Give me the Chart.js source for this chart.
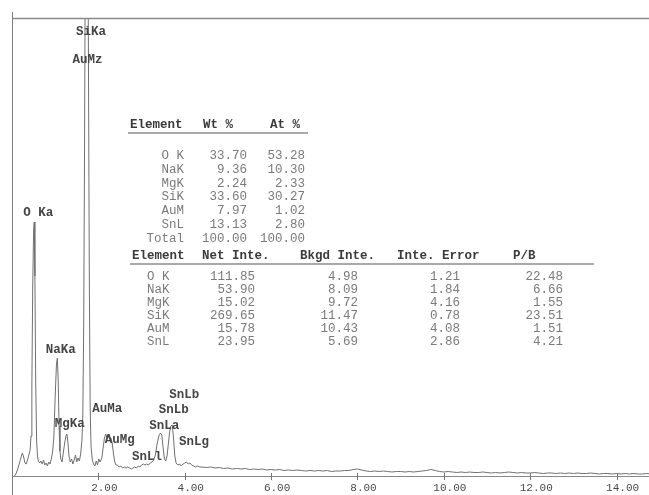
<!DOCTYPE html>
<html>
<head>
<meta charset="utf-8">
<title>EDS spectrum</title>
<script src="https://cdn.jsdelivr.net/npm/chart.js@4.4.1/dist/chart.umd.min.js"></script>
<style>
  html, body { margin: 0; padding: 0; background: #ffffff; }
  #wrap { width: 649px; height: 495px; }
</style>
</head>
<body>
<div id="wrap"><canvas id="spec" width="649" height="495"></canvas></div>
<script>
// ---- spectrum: energy (keV) and counts ----
const energyKeV = [
  0.06, 0.10, 0.14, 0.18, 0.21, 0.24, 0.27, 0.30, 0.33, 0.36, 0.39, 0.42, 0.44, 0.46, 0.48, 0.50, 0.515, 0.53, 0.55, 0.57,
  0.59, 0.61, 0.64, 0.67, 0.70, 0.73, 0.76, 0.79, 0.82, 0.85, 0.88, 0.91, 0.94, 0.97, 1.00, 1.03, 1.05, 1.07, 1.09, 1.11,
  1.13, 1.16, 1.19, 1.22, 1.25, 1.27, 1.29, 1.32, 1.35, 1.38, 1.41, 1.44, 1.47, 1.50, 1.53, 1.56, 1.59, 1.62, 1.64, 1.66,
  1.68, 1.70, 1.72, 1.735, 1.75, 1.77, 1.79, 1.81, 1.83, 1.86, 1.89, 1.92, 1.95, 1.98, 2.01, 2.04, 2.08, 2.11, 2.14, 2.17,
  2.20, 2.23, 2.26, 2.29, 2.32, 2.35, 2.38, 2.41, 2.44, 2.48, 2.52, 2.56, 2.60, 2.64, 2.68, 2.72, 2.76, 2.80, 2.84, 2.88,
  2.92, 2.96, 3.00, 3.04, 3.08, 3.12, 3.16, 3.20, 3.24, 3.28, 3.32, 3.36, 3.40, 3.44, 3.47, 3.50, 3.53, 3.56, 3.59, 3.62,
  3.65, 3.68, 3.71, 3.74, 3.77, 3.80, 3.84, 3.88, 3.92, 3.96, 4.00, 4.04, 4.08, 4.12, 4.16, 4.20, 4.25, 4.30, 4.35,
  4.4, 4.5, 4.6, 4.7, 4.8, 4.9, 5.0, 5.1, 5.2, 5.3, 5.4, 5.5, 5.6, 5.7, 5.8, 5.9, 6.0, 6.1, 6.2, 6.3,
  6.4, 6.5, 6.6, 6.7, 6.8, 6.9, 7.0, 7.1, 7.2, 7.3, 7.4, 7.5, 7.6, 7.7, 7.8, 7.9, 8.0, 8.1, 8.2, 8.3,
  8.4, 8.5, 8.6, 8.7, 8.8, 8.9, 9.0, 9.1, 9.2, 9.3, 9.4, 9.5, 9.6, 9.7, 9.8, 9.9, 10.0, 10.1, 10.2, 10.3,
  10.4, 10.5, 10.6, 10.7, 10.8, 10.9, 11.0, 11.1, 11.2, 11.3, 11.4, 11.5, 11.6, 11.7, 11.8, 11.9, 12.0, 12.1, 12.2, 12.3,
  12.4, 12.5, 12.6, 12.7, 12.8, 12.9, 13.0, 13.1, 13.2, 13.3, 13.4, 13.5, 13.6, 13.7, 13.8, 13.9, 14.0, 14.1, 14.2, 14.3,
  14.4, 14.5, 14.6, 14.7, 14.8
];
const counts = [
  0, 3, 8, 14, 19, 23, 19, 13, 12, 16, 21, 26, 40, 90, 190, 245, 254, 200, 90, 35,
  20, 15, 13, 15, 12, 16, 11, 13, 10, 14, 12, 17, 24, 40, 80, 112, 118, 95, 50, 25,
  17, 14, 24, 33, 40, 42, 36, 20, 14, 17, 12, 16, 21, 14, 18, 15, 22, 36, 60, 150,
  330, 560, 660, 680, 600, 420, 200, 70, 30, 16, 12, 10, 15, 11, 17, 14, 18, 28, 38, 42,
  38, 40, 37, 38, 33, 22, 14, 11, 11, 9, 10, 8, 9, 8, 9, 8, 7, 8, 9, 8,
  10, 9, 11, 12, 11, 12, 11, 13, 14, 16, 21, 32, 40, 43, 41, 28, 17, 15, 20, 32,
  44, 50, 51, 38, 20, 13, 11, 12, 10, 12, 13, 14, 12, 13, 11, 10, 9, 10, 9,
  9, 8.5, 9, 8, 8.5, 7.5, 8, 7, 7.5, 7, 7.5, 6.5, 7, 6.5, 7, 6, 6.5, 6, 6.5, 5.5,
  6, 5.5, 6, 5.5, 5, 5.5, 5, 5.5, 5, 5.5, 4.5, 5, 5, 5.5, 5.5, 6.5, 7, 6, 5, 4.5,
  5, 4.5, 5, 4.5, 4, 4.5, 4.5, 4, 4.5, 4, 4.5, 5, 5.5, 6.5, 5.5, 4.5, 4, 4.5, 4, 3.5,
  4, 3.5, 4, 3.5, 3.5, 4, 3.5, 3, 3.5, 3, 3.5, 4, 3.5, 3, 3.5, 3, 3, 3.5, 3, 2.5,
  3, 3, 2.5, 3, 2.5, 3, 2.5, 3, 2.5, 2.5, 3, 2.5, 2, 2.5, 2.5, 2, 2.5, 2, 2.5, 2,
  2.5, 2, 2, 2.5, 2
];

// ---- peak identifications ----
const peakNames    = ['O Ka', 'NaKa', 'MgKa', 'SiKa', 'AuMz', 'AuMa', 'AuMg', 'SnLl', 'SnLa', 'SnLb', 'SnLb', 'SnLg'];
const peakEnergies = [0.52, 1.04, 1.25, 1.74, 1.66, 2.12, 2.41, 3.04, 3.44, 3.66, 3.90, 4.13];

// ---- energy axis ----
const xTickValues = [2, 4, 6, 8, 10, 12, 14];

// ---- quantification (ZAF) ----
const quantElements = ['O K', 'NaK', 'MgK', 'SiK', 'AuM', 'SnL', 'Total'];
const wtPercent     = [33.70, 9.36, 2.24, 33.60, 7.97, 13.13, 100.00];
const atPercent     = [53.28, 10.30, 2.33, 30.27, 1.02, 2.80, 100.00];

// ---- intensities ----
const intElements = ['O K', 'NaK', 'MgK', 'SiK', 'AuM', 'SnL'];
const netInte     = [111.85, 53.90, 15.02, 269.65, 15.78, 23.95];
const bkgdInte    = [4.98, 8.09, 9.72, 11.47, 10.43, 5.69];
const inteError   = [1.21, 1.84, 4.16, 0.78, 4.08, 2.86];
const pbRatio     = [22.48, 6.66, 1.55, 23.51, 1.51, 4.21];

// ---- layout / styling ----
const MONO = '"Liberation Mono", "Courier New", monospace';
// height (in counts) at which each peak name is written
const peakLabelLevels = [263, 126, 52, 444, 416, 67, 36, 19, 50, 66, 81, 34];

const table1 = {
  headers: [['Element', 130], ['Wt %', 203], ['At %', 270]],
  headerY: 125, ruleY: 133, ruleX: [128, 308],
  rowY0: 156, rowStep: 13.7,
  colRight: [184, 247, 305]
};
const table2 = {
  headers: [['Element', 132], ['Net Inte.', 202], ['Bkgd Inte.', 300], ['Inte. Error', 397], ['P/B', 513]],
  headerY: 256, ruleY: 264, ruleX: [130, 594],
  rowY0: 277, rowStep: 13,
  elemLeft: 147,
  colRight: [255, 358, 460, 563]
};

const decorations = {
  id: 'decorations',
  afterDraw(chart) {
    const { ctx, chartArea: a, scales: { x, y } } = chart;
    ctx.save();

    // frame rules
    ctx.strokeStyle = '#7c7c7c';
    ctx.lineWidth = 1;
    ctx.beginPath();
    ctx.moveTo(a.left + 0.5, a.top - 6);
    ctx.lineTo(a.left + 0.5, chart.height);
    ctx.stroke();
    ctx.strokeStyle = '#8a8a8a';
    ctx.lineWidth = 1.5;
    ctx.beginPath();
    ctx.moveTo(a.left, a.top + 0.5);
    ctx.lineTo(a.right, a.top + 0.5);
    ctx.stroke();

    // cross-shaped tick marks on the energy axis
    ctx.strokeStyle = '#777777';
    ctx.lineWidth = 1;
    xTickValues.forEach(v => {
      const px = Math.round(x.getPixelForValue(v)) + 0.5;
      ctx.beginPath();
      ctx.moveTo(px, a.bottom - 3);
      ctx.lineTo(px, a.bottom + 4);
      ctx.stroke();
    });

    // peak identifications: second character sits over the line energy
    ctx.font = 'bold 12.5px ' + MONO;
    ctx.fillStyle = '#444444';
    ctx.textBaseline = 'middle';
    ctx.textAlign = 'left';
    const cw = ctx.measureText('M').width;
    peakNames.forEach((name, i) => {
      const px = x.getPixelForValue(peakEnergies[i]);
      const py = y.getPixelForValue(peakLabelLevels[i]);
      ctx.fillText(name, px - 1.5 * cw, py);
    });

    // quantification table
    drawHeader(ctx, table1);
    ctx.font = '12.5px ' + MONO;
    ctx.fillStyle = '#7a7a7a';
    ctx.textAlign = 'right';
    quantElements.forEach((el, i) => {
      const ry = table1.rowY0 + i * table1.rowStep;
      ctx.fillText(el, table1.colRight[0], ry);
      ctx.fillText(wtPercent[i].toFixed(2), table1.colRight[1], ry);
      ctx.fillText(atPercent[i].toFixed(2), table1.colRight[2], ry);
    });

    // intensity table
    drawHeader(ctx, table2);
    ctx.font = '12.5px ' + MONO;
    ctx.fillStyle = '#7a7a7a';
    intElements.forEach((el, i) => {
      const ry = table2.rowY0 + i * table2.rowStep;
      ctx.textAlign = 'left';
      ctx.fillText(el, table2.elemLeft, ry);
      ctx.textAlign = 'right';
      [netInte, bkgdInte, inteError, pbRatio].forEach((col, c) => {
        ctx.fillText(col[i].toFixed(2), table2.colRight[c], ry);
      });
    });

    ctx.restore();
  }
};

function drawHeader(ctx, t) {
  ctx.font = 'bold 12.5px ' + MONO;
  ctx.fillStyle = '#3a3a3a';
  ctx.textAlign = 'left';
  ctx.textBaseline = 'middle';
  t.headers.forEach(([txt, left]) => ctx.fillText(txt, left, t.headerY));
  ctx.strokeStyle = '#8c8c8c';
  ctx.lineWidth = 1.5;
  ctx.beginPath();
  ctx.moveTo(t.ruleX[0], t.ruleY);
  ctx.lineTo(t.ruleX[1], t.ruleY);
  ctx.stroke();
}

new Chart(document.getElementById('spec'), {
  type: 'line',
  data: {
    datasets: [{
      data: energyKeV.map((e, i) => ({ x: e, y: counts[i] })),
      borderColor: '#707070',
      borderWidth: 1,
      pointRadius: 0,
      tension: 0,
      fill: false
    }]
  },
  options: {
    responsive: false,
    animation: false,
    devicePixelRatio: 1,
    layout: { padding: { left: 12, top: 18, right: 0, bottom: 0 } },
    plugins: { legend: { display: false }, tooltip: { enabled: false } },
    scales: {
      x: {
        type: 'linear',
        min: 0,
        max: 14.75,
        afterBuildTicks: s => { s.ticks = xTickValues.map(v => ({ value: v })); },
        afterFit: s => { s.height = 19; s.paddingLeft = 0; s.paddingRight = 0; },
        grid: { display: false, drawTicks: false },
        border: { display: true, color: '#888888', width: 1 },
        ticks: {
          padding: 5,
          labelOffset: 6,
          maxRotation: 0,
          autoSkip: false,
          color: '#4a4a4a',
          font: { family: MONO, size: 11 },
          callback: v => Number(v).toFixed(2)
        }
      },
      y: { display: false, min: 0, max: 458 }
    }
  },
  plugins: [decorations]
});
</script>
</body>
</html>
